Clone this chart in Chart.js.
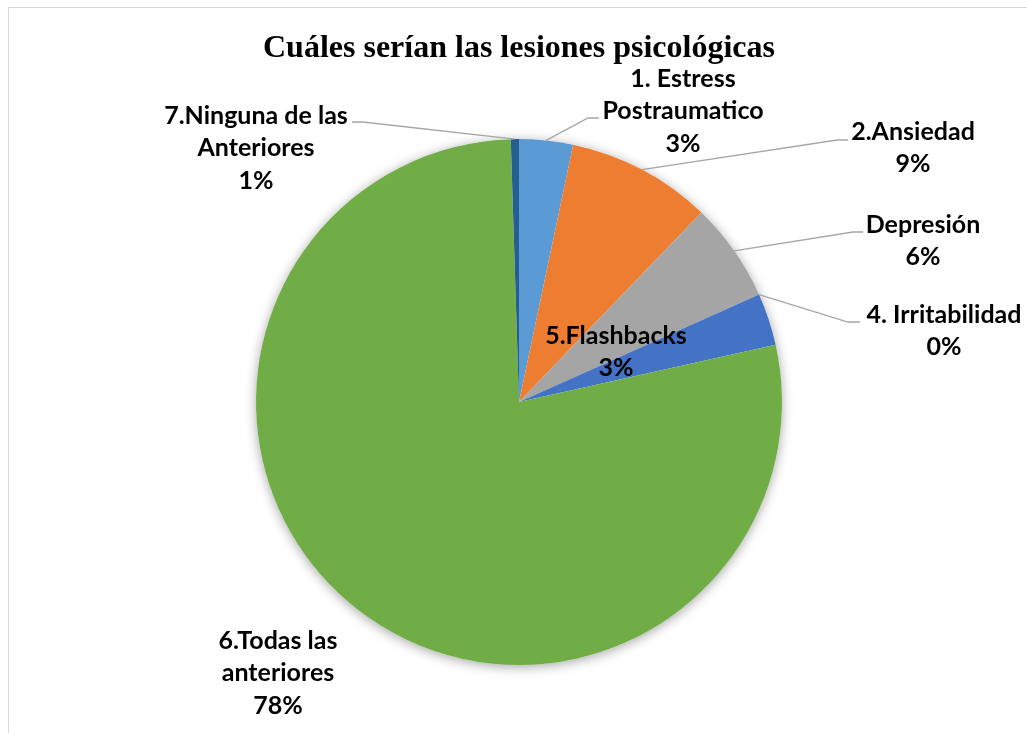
<!DOCTYPE html>
<html lang="es">
<head>
<meta charset="UTF-8">
<title>Cuáles serían las lesiones psicológicas</title>
<script src="https://cdn.jsdelivr.net/npm/chart.js"></script>
<style>
 html, body {margin: 0; padding: 0; background: #fff; overflow: hidden;}
 .marco {position: absolute; left: 8px; top: 7px; width: 1100px; height: 800px;
   border-left: 1px solid #d9d9d9; border-top: 1px solid #d9d9d9;}
 .caja {position: absolute; left: 0; top: 0; width: 1027px; height: 733px;}
</style>
</head>
<body>
<div class="marco"></div>
<div class="caja"><canvas id="grafico" width="1027" height="733"></canvas></div>
<script>
// datos
const categorias = [
  ['1. Estress', 'Postraumatico'],
  ['2.Ansiedad'],
  ['Depresión'],
  ['4. Irritabilidad'],
  ['5.Flashbacks'],
  ['6.Todas las', 'anteriores'],
  ['7.Ninguna de las', 'Anteriores']
];
const valores = [3.3, 8.9, 6.1, 0, 3.2, 78.0, 0.5];
const porcentajes = ['3%', '9%', '6%', '0%', '3%', '78%', '1%'];
const colores = ['#5B9BD5', '#ED7D31', '#A5A5A5', '#FFC000', '#4472C4', '#70AD47', '#255E91'];

// posicion de las etiquetas respecto al centro del pastel (px)
// guia: [codo x, codo y, fin x]
const posEtiquetas = [
  {dx: 164, dy: -291, guia: [69, -284, 80]},
  {dx: 394, dy: -254, guia: [318, -262, 329]},
  {dx: 404, dy: -161, guia: [334, -170, 344]},
  {dx: 425, dy: -71, guia: [329, -80, 341]},
  {dx: 97, dy: -50, guia: null},
  {dx: -241, dy: 271, guia: null},
  {dx: -263, dy: -254, guia: [-156, -280, -167]}
];

const etiquetas = {
  id: 'etiquetas',
  beforeDatasetsDraw(chart) {
    // sombra suave alrededor del pastel
    const arc = chart.getDatasetMeta(0).data[0];
    if (!arc) return;
    const ctx = chart.ctx;
    ctx.save();
    ctx.shadowColor = 'rgba(0,0,0,0.35)';
    ctx.shadowBlur = 12;
    ctx.shadowOffsetY = 2;
    ctx.fillStyle = '#ffffff';
    ctx.beginPath();
    ctx.arc(arc.x, arc.y, arc.outerRadius, 0, Math.PI * 2);
    ctx.fill();
    ctx.restore();
  },
  afterDatasetsDraw(chart) {
    const ctx = chart.ctx;
    const meta = chart.getDatasetMeta(0);
    ctx.save();
    meta.data.forEach((arc, i) => {
      const p = arc.getProps(['x', 'y', 'startAngle', 'endAngle', 'outerRadius'], true);
      const pos = posEtiquetas[i];
      if (pos.guia) {
        const a = (p.startAngle + p.endAngle) / 2;
        ctx.strokeStyle = '#A6A6A6';
        ctx.lineWidth = 1.3;
        ctx.beginPath();
        ctx.moveTo(p.x + Math.cos(a) * p.outerRadius, p.y + Math.sin(a) * p.outerRadius);
        ctx.lineTo(p.x + pos.guia[0], p.y + pos.guia[1]);
        ctx.lineTo(p.x + pos.guia[2], p.y + pos.guia[1]);
        ctx.stroke();
      }
      const lineas = categorias[i].concat(porcentajes[i]);
      ctx.fillStyle = '#000000';
      ctx.font = 'bold 25px Lato';
      ctx.textAlign = 'center';
      ctx.textBaseline = 'middle';
      lineas.forEach((t, k) => {
        ctx.fillText(t, p.x + pos.dx, p.y + pos.dy + (k - (lineas.length - 1) / 2) * 32.5);
      });
    });
    ctx.restore();
  }
};

new Chart(document.getElementById('grafico'), {
  type: 'pie',
  data: {
    labels: categorias.map(c => c.join(' ')),
    datasets: [{
      data: valores,
      backgroundColor: colores,
      borderWidth: 0
    }]
  },
  options: {
    responsive: false,
    animation: false,
    layout: {padding: {top: 0, left: 256, right: 245, bottom: 68}},
    plugins: {
      legend: {display: false},
      tooltip: {enabled: false},
      title: {
        display: true,
        text: 'Cuáles serían las lesiones psicológicas',
        color: '#000000',
        font: {family: 'Liberation Serif', size: 32, weight: 'bold'},
        padding: {top: 30, bottom: 70.6}
      }
    }
  },
  plugins: [etiquetas]
});
</script>
</body>
</html>
